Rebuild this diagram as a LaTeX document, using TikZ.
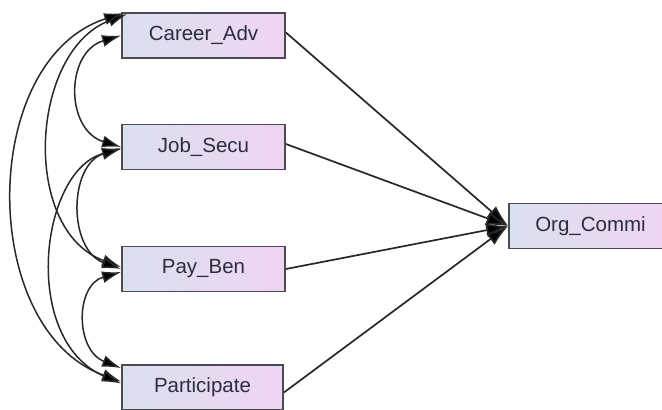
\documentclass[tikz,border=0pt]{standalone}
\usepackage{fontspec}
\setmainfont{Liberation Sans}
\usetikzlibrary{arrows.meta,calc}
\definecolor{lc}{RGB}{218,224,238}
\definecolor{rc}{RGB}{240,212,242}
\definecolor{bd}{RGB}{75,75,85}
\definecolor{tx}{RGB}{45,45,65}
\definecolor{ln}{RGB}{40,40,40}
\begin{document}
\begin{tikzpicture}[x=1pt,y=-1pt,
  var/.style={draw=bd, line width=1.8pt, left color=lc, right color=rc,
    minimum height=45pt, minimum width=163pt, inner sep=0pt,
    font=\fontsize{20.5}{24}\selectfont, text=tx},
  tip/.style={},
  cov/.style={draw=ln, line width=1.5pt,
    {Latex[length=19pt,width=12pt,fill=black]}-{Latex[length=19pt,width=12pt,fill=black]}},
  reg/.style={draw=ln, line width=1.7pt, -{Latex[length=22pt,width=14pt,fill=black]}}]
\useasboundingbox (0,0) rectangle (662,410);
\fill[white] (0,0) rectangle (662,410);
\node[var] (car) at (203.5,35.5) {Career\_Adv};
\node[var] (job) at (203.5,147) {Job\_Secu};
\node[var] (pay) at (203.5,269) {Pay\_Ben};
\node[var, minimum width=161pt] (par) at (202.5,387.5) {Participate};
\node[var] (org) at (590.5,226) {Org\_Commi};
% regressions
\draw[reg] ($(car.east)+(0,-3)$) -- (org.west);
\draw[reg] ($(job.east)+(0,-3)$) -- (org.west);
\draw[reg] (pay.east) -- (org.west);
\draw[reg] ($(par.east)+(0,5)$) -- (org.west);
% covariances
\draw[cov] (car.west) .. controls (65,52) and (65,130) .. (job.west);
\draw[cov] ($(car.north west)+(6,2)$) .. controls (30,50) and (20,230) .. ($(pay.west)+(0,-2)$);
\draw[cov] ($(car.north west)+(2,1)$) .. controls (-22,60) and (-22,330) .. ($(par.west)+(0,-6)$);
\draw[cov] ($(job.west)+(0,1)$) .. controls (68,165) and (68,250) .. (pay.west);
\draw[cov] ($(job.west)+(0,2)$) .. controls (40,170) and (20,340) .. ($(par.west)+(0,-4)$);
\draw[cov] ($(pay.west)+(0,3)$) .. controls (75,285) and (75,350) .. ($(par.north west)+(0,4)$);
\end{tikzpicture}
\end{document}
